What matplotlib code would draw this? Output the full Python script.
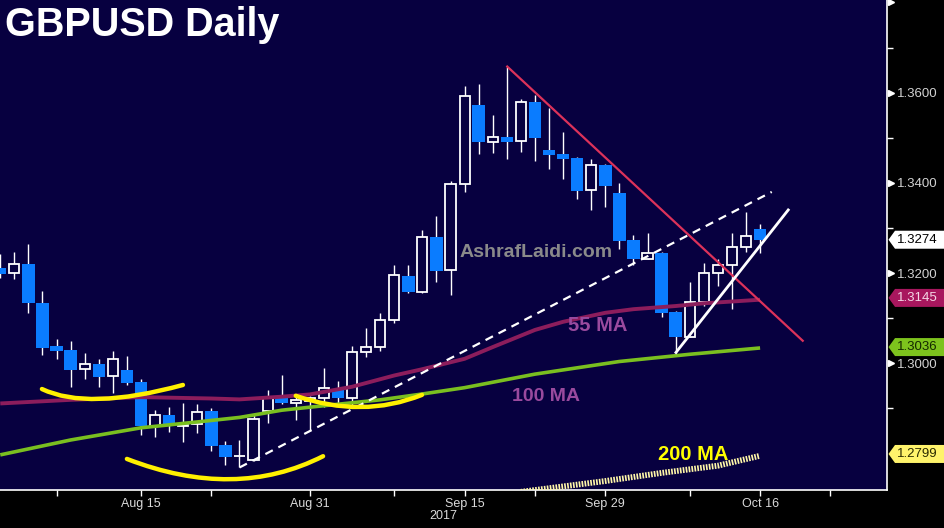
import matplotlib
matplotlib.use('Agg')
import matplotlib.pyplot as plt
import matplotlib.transforms as mtransforms
from matplotlib.patches import Rectangle, Polygon, PathPatch
from matplotlib.path import Path

plt.rcParams['font.family'] = ['Liberation Sans', 'DejaVu Sans']
plt.rcParams['lines.scale_dashes'] = False

# GBPUSD daily candles, 1 Aug 2017 (index 0) .. 16 Oct 2017 (index 54)
opens = [1.3211, 1.3200, 1.3220, 1.3134, 1.3038, 1.3029, 1.2987, 1.2998, 1.2971, 1.2985,
         1.2959, 1.2862, 1.2885, 1.2862, 1.2865, 1.2894, 1.2819, 1.2794, 1.2786, 1.2894,
         1.2926, 1.2911, 1.2917, 1.2924, 1.2943, 1.2924, 1.3026, 1.3037, 1.3097, 1.3194,
         1.3157, 1.3279, 1.3206, 1.3397, 1.3573, 1.3491, 1.3501, 1.3492, 1.3579, 1.3473,
         1.3463, 1.3455, 1.3384, 1.3440, 1.3378, 1.3273, 1.3232, 1.3244, 1.3113, 1.3059,
         1.3137, 1.3200, 1.3219, 1.3257, 1.3297]
highs = [1.3242, 1.3247, 1.3264, 1.3160, 1.3054, 1.3049, 1.3023, 1.3010, 1.3027, 1.3016,
         1.2965, 1.2896, 1.2904, 1.2912, 1.2910, 1.2902, 1.2828, 1.2830, 1.2885, 1.2941,
         1.2974, 1.2933, 1.2928, 1.2989, 1.2961, 1.3038, 1.3078, 1.3111, 1.3219, 1.3218,
         1.3296, 1.3327, 1.3404, 1.3615, 1.3619, 1.3550, 1.3658, 1.3586, 1.3595, 1.3565,
         1.3513, 1.3458, 1.3453, 1.3441, 1.3399, 1.3284, 1.3290, 1.3247, 1.3116, 1.3180,
         1.3222, 1.3231, 1.3290, 1.3336, 1.3308]
lows = [1.3189, 1.3188, 1.3111, 1.3018, 1.3010, 1.2948, 1.2965, 1.2948, 1.2935, 1.2952,
        1.2841, 1.2837, 1.2848, 1.2826, 1.2845, 1.2806, 1.2775, 1.2769, 1.2783, 1.2868,
        1.2910, 1.2874, 1.2852, 1.2903, 1.2911, 1.2905, 1.3015, 1.3027, 1.3090, 1.3156,
        1.3156, 1.3181, 1.3151, 1.3380, 1.3464, 1.3467, 1.3452, 1.3469, 1.3449, 1.3430,
        1.3409, 1.3364, 1.3341, 1.3347, 1.3253, 1.3218, 1.3231, 1.3103, 1.3022, 1.3058,
        1.3127, 1.3172, 1.3120, 1.3247, 1.3245]
closes = [1.3198, 1.3220, 1.3133, 1.3035, 1.3028, 1.2986, 1.2998, 1.2970, 1.3009, 1.2957,
          1.2861, 1.2885, 1.2863, 1.2863, 1.2893, 1.2817, 1.2793, 1.2795, 1.2876, 1.2926,
          1.2911, 1.2919, 1.2924, 1.2945, 1.2924, 1.3026, 1.3037, 1.3095, 1.3195, 1.3157,
          1.3279, 1.3205, 1.3397, 1.3593, 1.3491, 1.3501, 1.3491, 1.3579, 1.3500, 1.3462,
          1.3454, 1.3383, 1.3439, 1.3394, 1.3272, 1.3232, 1.3244, 1.3112, 1.3059, 1.3137,
          1.3200, 1.3219, 1.3257, 1.3282, 1.3274]

# moving averages (read at a few candles)
ma55_idx = [0, 5, 10, 15, 17, 20, 22, 25, 28, 30, 33, 35, 38, 40, 43, 45, 48, 50, 52, 54]
ma55 = [1.2911, 1.2919, 1.2925, 1.2922, 1.2920, 1.2926, 1.2931, 1.2948, 1.2973, 1.2987,
        1.3010, 1.3036, 1.3074, 1.3092, 1.3112, 1.3120, 1.3127, 1.3133, 1.3137, 1.3141]
ma100_idx = [0, 5, 10, 14, 17, 20, 23, 27, 30, 33, 38, 44, 49, 54]
ma100 = [1.2797, 1.2830, 1.2857, 1.2870, 1.2880, 1.2896, 1.2906, 1.2919, 1.2932, 1.2946,
         1.2976, 1.3004, 1.3020, 1.3034]
ma200_idx = [37, 43, 47, 51, 54]
ma200 = [1.2715, 1.2739, 1.2757, 1.2773, 1.2795]

# hand drawn trend lines (index, price)
red_line = ([36.03, 57.03], [1.3658, 1.3050])
dash_line = ([17.0, 54.83], [1.2769, 1.3380])
white_line = ([48.02, 56.0], [1.3024, 1.3340])
arcs = [[(2.96, 1.2943), (7.09, 1.2921), (12.98, 1.2952)],
        [(9.0, 1.2788), (16.33, 1.2743), (22.94, 1.2794)],
        [(21.0, 1.2928), (25.6, 1.2903), (29.97, 1.2930)]]

tick_idx = [10, 22, 33, 43, 54]
tick_labels = ['Aug 15', 'Aug 31', 'Sep 15', 'Sep 29', 'Oct 16']
minor_idx = [4, 15, 28, 38, 49, 59]
price_ticks = [1.30, 1.32, 1.34, 1.36]
tri_ticks = [1.30, 1.32, 1.34, 1.36, 1.38]
minor_prices = [1.29, 1.31, 1.33, 1.35, 1.37]

# last value flags on the price axis
flags = [(1.3274, '#FFFFFF', '#000000'),
         (1.3145, '#A8175E', '#F4D8E6'),
         (1.3036, '#7DC31D', '#142800'),
         (1.2799, '#FFF36B', '#2A2A00')]

NAVY = '#070040'
BLUE = '#0A7CFF'

fig = plt.figure(figsize=(9.44, 5.28), dpi=100, facecolor='black')
ax = fig.add_axes([0, 38 / 528, 887 / 944, 490 / 528])
ax.set_facecolor(NAVY)
ax.set_xlim(-0.02, 63.02)
ax.set_ylim(1.27191, 1.38055)

# candles
for i in range(len(opens)):
    o, h, l, c = opens[i], highs[i], lows[i], closes[i]
    ax.vlines(i, l, h, color='white', lw=1, zorder=2)
    if c >= o:
        w = 0.72
        ax.add_patch(Rectangle((i - w / 2, o), w, max(c - o, 0.00005), facecolor=NAVY,
                               edgecolor='white', lw=1.3, zorder=3))
    else:
        w = 0.88
        ax.add_patch(Rectangle((i - w / 2, c), w, o - c, facecolor=BLUE,
                               edgecolor='none', zorder=3))

# moving averages
ax.plot(ma55_idx, ma55, color='#8C1D5C', lw=2.8, zorder=4, solid_capstyle='butt')
ax.plot(ma100_idx, ma100, color='#7ABF20', lw=2.6, zorder=4, solid_capstyle='butt')
ax.plot(ma200_idx, ma200, color='#FFF7A8', lw=4.2, ls=(0, (1.2, 0.9)), zorder=4)

# trend lines
ax.plot(*red_line, color='#DC325A', lw=1.6, zorder=5)
ax.plot(*dash_line, color='white', lw=1.6, ls=(0, (6, 4.5)), zorder=5)
ax.plot(*white_line, color='white', lw=2.0, zorder=5)
for a in arcs:
    p0, m, p2 = a
    ctrl = (2 * m[0] - (p0[0] + p2[0]) / 2, 2 * m[1] - (p0[1] + p2[1]) / 2)
    path = Path([p0, ctrl, p2], [Path.MOVETO, Path.CURVE3, Path.CURVE3])
    ax.add_patch(PathPatch(path, facecolor='none', edgecolor='#FFF000', lw=3.2,
                           capstyle='round', zorder=5))

# texts
ax.text(38.08, 1.32446, 'AshrafLaidi.com', color='#8A8A8A', fontsize=14, fontweight='bold',
        ha='center', va='center', zorder=1)
ax.text(42.48, 1.30849, '55 MA', color='#9A4A9E', fontsize=14.5, fontweight='bold',
        ha='center', va='center', zorder=6)
ax.text(38.78, 1.29253, '100 MA', color='#9A4A9E', fontsize=14, fontweight='bold',
        ha='center', va='center', zorder=6)
ax.text(49.24, 1.27967, '200 MA', color='#FFFF00', fontsize=14.5, fontweight='bold',
        ha='center', va='center', zorder=6)
fig.text(5 / 944, 1 - 25 / 528, 'GBPUSD Daily', color='white', fontsize=28.5,
         fontweight='bold', ha='left', va='center')
fig.text(443 / 944, 1 - 516 / 528, '2017', color='#DADADA', fontsize=9,
         ha='center', va='center')

# axes styling
for s in ['left', 'top']:
    ax.spines[s].set_visible(False)
for s in ['bottom', 'right']:
    ax.spines[s].set_color('white')
    ax.spines[s].set_linewidth(1.2)

ax.set_xticks(tick_idx)
ax.set_xticklabels(tick_labels)
ax.set_xticks(minor_idx, minor=True)
ax.tick_params(axis='x', which='both', length=4, width=1, color='white',
               labelcolor='#DADADA', labelsize=9, pad=1.5)

ax.yaxis.tick_right()
ax.set_yticks(price_ticks)
ax.set_yticklabels(['%.4f' % p for p in price_ticks])
ax.set_yticks(minor_prices, minor=True)
ax.tick_params(axis='y', which='major', length=0, pad=7, labelcolor='#D2D2D2', labelsize=9.5)
ax.tick_params(axis='y', which='minor', length=4, width=1, color='white')

blend = mtransforms.blended_transform_factory(ax.transAxes, ax.transData)
ax.plot([1 + 4 / 887] * len(tri_ticks), tri_ticks, ls='none', marker='>', ms=5,
        color='white', transform=blend, clip_on=False, zorder=6)

hh = 9 / 4510
for val, fc, tc in flags:
    pts = [(1 + 1.5 / 887, val), (1 + 8 / 887, val + hh), (1.08, val + hh),
           (1.08, val - hh), (1 + 8 / 887, val - hh)]
    ax.add_patch(Polygon(pts, closed=True, facecolor=fc, edgecolor='none',
                         transform=blend, clip_on=False, zorder=7))
    ax.text(1 + 10 / 887, val, '%.4f' % val, color=tc, fontsize=9.5, ha='left',
            va='center', transform=blend, clip_on=False, zorder=8)

fig.savefig('out.png', dpi=100, facecolor='black')
